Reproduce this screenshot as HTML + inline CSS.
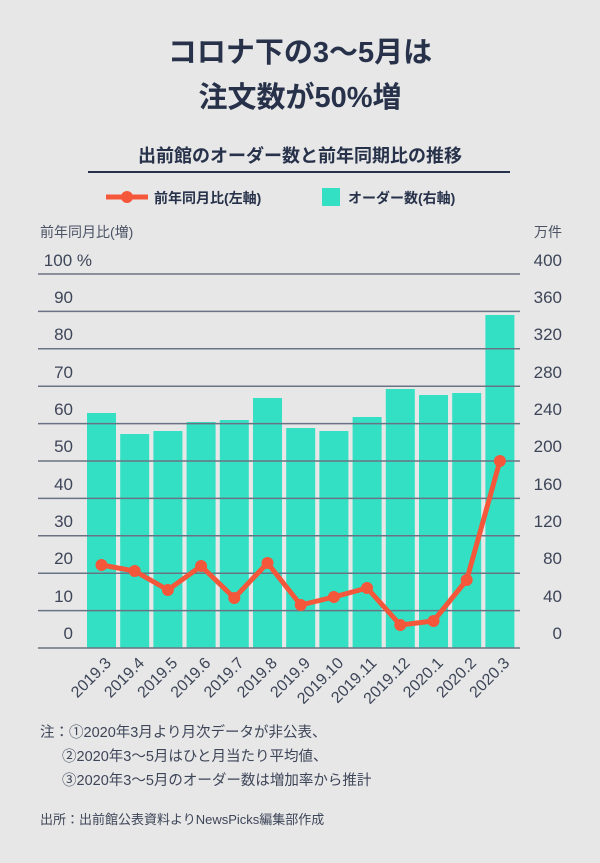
<!DOCTYPE html>
<html><head><meta charset="utf-8"><style>
body{margin:0;background:#e7e7e7;}
svg{display:block;font-family:"Liberation Sans","Noto Sans CJK JP",sans-serif;}
</style></head><body>
<svg width="600" height="863" viewBox="0 0 600 863">
<rect width="600" height="863" fill="#e7e7e7"/>
<g fill="#27324a" font-weight="bold" text-anchor="middle">
<text x="300" y="62" font-size="29">コロナ下の3〜5月は</text>
<text x="300" y="107" font-size="29">注文数が50%増</text>
<text x="300" y="162" font-size="18">出前館のオーダー数と前年同期比の推移</text>
</g>
<rect x="88" y="171" width="422" height="2" fill="#27324a"/>
<line x1="106" y1="197" x2="148" y2="197" stroke="#f4573a" stroke-width="5"/>
<circle cx="127" cy="197" r="6" fill="#f4573a"/>
<text x="154" y="203" font-size="14" font-weight="bold" fill="#27324a">前年同月比(左軸)</text>
<rect x="322" y="188" width="18" height="18" fill="#33e0c4"/>
<text x="348" y="203" font-size="14" font-weight="bold" fill="#27324a">オーダー数(右軸)</text>
<text x="40" y="237" font-size="14" fill="#4a5264">前年同月比(増)</text>
<text x="562" y="237" font-size="14" fill="#4a5264" text-anchor="end">万件</text>
<g fill="#33e0c4">
<rect x="87" y="413" width="29" height="235"/><rect x="120.2" y="434" width="29" height="214"/>
<rect x="153.4" y="431" width="29" height="217"/><rect x="186.6" y="422" width="29" height="226"/>
<rect x="219.8" y="420" width="29" height="228"/><rect x="253" y="398" width="29" height="250"/>
<rect x="286.2" y="428" width="29" height="220"/><rect x="319.4" y="431" width="29" height="217"/>
<rect x="352.6" y="417" width="29" height="231"/><rect x="385.8" y="389" width="29" height="259"/>
<rect x="419" y="395" width="29" height="253"/><rect x="452.2" y="393" width="29" height="255"/>
<rect x="485.4" y="315" width="29" height="333"/>
</g>
<g stroke="#6a7384" stroke-width="1.5">
<line x1="38" y1="274" x2="520" y2="274"/><line x1="38" y1="311.4" x2="520" y2="311.4"/>
<line x1="38" y1="348.8" x2="520" y2="348.8"/><line x1="38" y1="386.2" x2="520" y2="386.2"/>
<line x1="38" y1="423.6" x2="520" y2="423.6"/><line x1="38" y1="461" x2="520" y2="461"/>
<line x1="38" y1="498.4" x2="520" y2="498.4"/><line x1="38" y1="535.8" x2="520" y2="535.8"/>
<line x1="38" y1="573.2" x2="520" y2="573.2"/><line x1="38" y1="610.6" x2="520" y2="610.6"/>
<line x1="38" y1="648" x2="520" y2="648"/>
</g>
<g font-size="17" fill="#3d4558" text-anchor="end">
<text x="92" y="266">100 %</text><text x="73" y="303">90</text><text x="73" y="340">80</text>
<text x="73" y="378">70</text><text x="73" y="415">60</text><text x="73" y="452">50</text>
<text x="73" y="490">40</text><text x="73" y="527">30</text><text x="73" y="564">20</text>
<text x="73" y="602">10</text><text x="73" y="639">0</text>
</g>
<g font-size="17" fill="#3d4558" text-anchor="end">
<text x="562" y="266">400</text><text x="562" y="303">360</text><text x="562" y="340">320</text>
<text x="562" y="378">280</text><text x="562" y="415">240</text><text x="562" y="452">200</text>
<text x="562" y="490">160</text><text x="562" y="527">120</text><text x="562" y="564">80</text>
<text x="562" y="602">40</text><text x="562" y="639">0</text>
</g>
<polyline fill="none" stroke="#f4573a" stroke-width="5" stroke-linejoin="round" points="101.5,565 134.7,571 167.9,590 201.1,566 234.3,598 267.5,563 300.7,605 333.9,597 367.1,588 400.3,625 433.5,621 466.7,580 499.9,461"/>
<g fill="#f4573a">
<circle cx="101.5" cy="565" r="6"/><circle cx="134.7" cy="571" r="6"/><circle cx="167.9" cy="590" r="6"/>
<circle cx="201.1" cy="566" r="6"/><circle cx="234.3" cy="598" r="6"/><circle cx="267.5" cy="563" r="6"/>
<circle cx="300.7" cy="605" r="6"/><circle cx="333.9" cy="597" r="6"/><circle cx="367.1" cy="588" r="6"/>
<circle cx="400.3" cy="625" r="6"/><circle cx="433.5" cy="621" r="6"/><circle cx="466.7" cy="580" r="6"/>
<circle cx="499.9" cy="461" r="6"/>
</g>
<g font-size="16" fill="#3d4558" text-anchor="end">
<text transform="translate(112,664) rotate(-45)">2019.3</text>
<text transform="translate(145.2,664) rotate(-45)">2019.4</text>
<text transform="translate(178.4,664) rotate(-45)">2019.5</text>
<text transform="translate(211.6,664) rotate(-45)">2019.6</text>
<text transform="translate(244.8,664) rotate(-45)">2019.7</text>
<text transform="translate(278,664) rotate(-45)">2019.8</text>
<text transform="translate(311.2,664) rotate(-45)">2019.9</text>
<text transform="translate(344.4,664) rotate(-45)">2019.10</text>
<text transform="translate(377.6,664) rotate(-45)">2019.11</text>
<text transform="translate(410.8,664) rotate(-45)">2019.12</text>
<text transform="translate(444,664) rotate(-45)">2020.1</text>
<text transform="translate(477.2,664) rotate(-45)">2020.2</text>
<text transform="translate(510.4,664) rotate(-45)">2020.3</text>
</g>
<g font-size="14.5" fill="#3d4558">
<text x="40" y="737">注：①2020年3月より月次データが非公表、</text>
<text x="62" y="761">②2020年3〜5月はひと月当たり平均値、</text>
<text x="62" y="785">③2020年3〜5月のオーダー数は増加率から推計</text>
<text x="40" y="824" font-size="13">出所：出前館公表資料よりNewsPicks編集部作成</text>
</g>
</svg>
</body></html>
